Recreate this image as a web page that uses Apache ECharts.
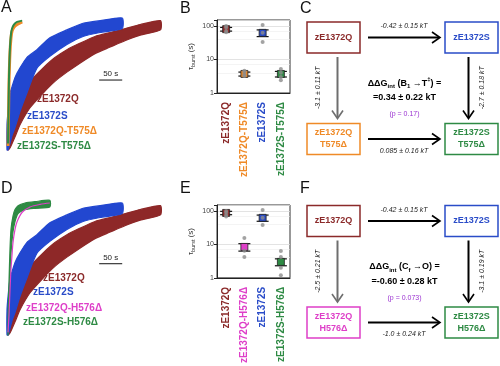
<!DOCTYPE html>
<html><head><meta charset="utf-8">
<script src="https://cdn.jsdelivr.net/npm/echarts@6/dist/echarts.min.js"></script>
<style>html,body{margin:0;padding:0;background:#fff}#c{width:500px;height:366px}</style>
</head><body><div id="c"></div>
<script>
// ===== Panels A / D: current traces (time in s, normalized current; noisy traces as low/high envelopes)
const traceTimeQ = [2.2, 6.5, 17.4, 28, 50, 78, 104, 130, 159, 191, 224, 257, 289, 333];
const traceLowQ  = [0.0, 0.015, 0.10, 0.19, 0.32, 0.43, 0.52, 0.59, 0.66, 0.73, 0.78, 0.83, 0.87, 0.91];
const traceHighQ = [0.08, 0.23, 0.34, 0.42, 0.52, 0.62, 0.70, 0.76, 0.81, 0.86, 0.89, 0.92, 0.95, 0.98];
const traceTimeS = [0, 2.2, 6.5, 11, 17.4, 28, 43, 65, 93, 130, 165, 202, 250];
const traceLowS  = [0, 0, 0.05, 0.11, 0.17, 0.29, 0.43, 0.62, 0.71, 0.80, 0.86, 0.89, 0.92];
const traceHighS = [0.19, 0.29, 0.43, 0.48, 0.55, 0.62, 0.70, 0.76, 0.85, 0.91, 0.96, 0.98, 1.0];
const fastTimeA   = [2.2, 3.3, 4.3, 6.5, 8.7, 11, 15, 22, 33];
const traceQT575  = [0.03, 0.26, 0.50, 0.74, 0.85, 0.90, 0.93, 0.95, 0.97];
const traceST575  = [0.05, 0.30, 0.55, 0.78, 0.88, 0.92, 0.95, 0.97, 0.98];
const fastTimeSH  = [2.2, 4.3, 6.5, 8.7, 13, 17.4, 24, 39, 61, 93];
const traceLowSH  = [0, 0.20, 0.45, 0.62, 0.78, 0.86, 0.92, 0.95, 0.96, 0.97];
const traceHighSH = [0.10, 0.40, 0.65, 0.80, 0.90, 0.95, 0.98, 1.0, 1.01, 1.02];
const fastTimeQH  = [2.2, 4.3, 6.5, 8.7, 11, 13, 17.4, 22, 33, 50, 72, 93];
const traceQH576  = [0.02, 0.15, 0.34, 0.50, 0.61, 0.70, 0.80, 0.86, 0.93, 0.97, 0.99, 1.0];
const scaleBarSeconds = 50;
const legendA = ['zE1372Q', 'zE1372S', 'zE1372Q-T575Δ', 'zE1372S-T575Δ'];
const legendD = ['zE1372Q', 'zE1372S', 'zE1372Q-H576Δ', 'zE1372S-H576Δ'];

// ===== Panels B / E: tau_burst (s)
const catsB  = ['zE1372Q', 'zE1372Q-T575Δ', 'zE1372S', 'zE1372S-T575Δ'];
const meanB  = [80, 3.7, 62, 3.7];
const semB   = [10, 0.5, 14, 0.7];
const pointsB = [[100, 90, 70, 65], [3.2, 4.2, 4.6, 3.5], [107, 62, 33], [5.2, 4.0, 3.0, 2.4]];
const catsE  = ['zE1372Q', 'zE1372Q-H576Δ', 'zE1372S', 'zE1372S-H576Δ'];
const meanE  = [87, 8.4, 62, 3.0];
const semE   = [10, 2.1, 13, 0.7];
const pointsE = [[100, 90, 75, 68], [15.5, 6.5, 4.2], [107, 62, 38], [6.4, 4.2, 2.0, 1.2]];
const yTicksBE = [1, 10, 100];

// ===== Panels C / F: thermodynamic cycles
const nodesC = ['zE1372Q', 'zE1372S', 'zE1372Q\nT575Δ', 'zE1372S\nT575Δ'];
const edgeLabelsC = ['-0.42 ± 0.15 kT', '-3.1 ± 0.11 kT', '-2.7 ± 0.18 kT', '0.085 ± 0.16 kT']; // top, left, right, bottom
const centerC = ['{b|ΔΔG}{s|int}{b| (B}{s|1}{b| →T}{p|‡}{b|) =}', '{b|=0.34 ± 0.22 kT}', '(p = 0.17)'];
const nodesF = ['zE1372Q', 'zE1372S', 'zE1372Q\nH576Δ', 'zE1372S\nH576Δ'];
const edgeLabelsF = ['-0.42 ± 0.15 kT', '-2.5 ± 0.21 kT', '-3.1 ± 0.19 kT', '-1.0 ± 0.24 kT'];
const centerF = ['{b|ΔΔG}{s|int}{b| (C}{s|f}{b| →O) =}', '{b|=-0.60 ± 0.28 kT}', '(p = 0.073)'];

// ----- styles
const FONT = '"Liberation Sans", Arial, sans-serif';
const RED = '#8B2A2A', BLUE = '#2A4CC8', ORANGE = '#EF8A27', GREEN = '#2E8A44', PINK = '#DE3FC8', PURPLE = '#9B33D1';
const colorsB = [RED, ORANGE, BLUE, GREEN];
const colorsE = [RED, PINK, BLUE, GREEN];

function zip(a, b) { return a.map((v, i) => [v, b[i]]); }

function bandSeries(g, times, low, high, color) {
  return {
    type: 'custom', xAxisIndex: g, yAxisIndex: g, data: [[0, 0]], silent: true,
    renderItem: function (params, api) {
      const up = times.map((t, i) => api.coord([t, high[i]]));
      const dn = times.map((t, i) => api.coord([t, low[i]])).reverse();
      return { type: 'polygon', shape: { points: up.concat(dn), smooth: 0.2 }, style: { fill: color, stroke: color, lineWidth: 1.2 } };
    }
  };
}
function lineSeries(g, times, vals, color, w) {
  return { type: 'line', xAxisIndex: g, yAxisIndex: g, data: zip(times, vals), showSymbol: false, smooth: 0.3,
    lineStyle: { color: color, width: w }, silent: true };
}
function scaleBar(g, t0, f) {
  return {
    type: 'custom', xAxisIndex: g, yAxisIndex: g, data: [[t0, f]], silent: true,
    renderItem: function (params, api) {
      const a = api.coord([api.value(0), api.value(1)]);
      const b = api.coord([api.value(0) + scaleBarSeconds, api.value(1)]);
      return { type: 'group', children: [
        { type: 'line', shape: { x1: a[0], y1: a[1], x2: b[0], y2: b[1] }, style: { stroke: '#111', lineWidth: 1 } },
        { type: 'text', x: (a[0] + b[0]) / 2, y: a[1] - 2, style: { text: scaleBarSeconds + ' s', font: '8px ' + FONT, fill: '#222', align: 'center', verticalAlign: 'bottom' } }
      ] };
    }
  };
}
function dotsSeries(g, pts) {
  const data = [];
  pts.forEach((arr, i) => arr.forEach(v => data.push([i, v])));
  return { type: 'scatter', xAxisIndex: g, yAxisIndex: g, data: data, symbolSize: 4, itemStyle: { color: '#8c8c8c' }, silent: true };
}
function meanSeries(g, mean, sem, colors) {
  return {
    type: 'custom', xAxisIndex: g, yAxisIndex: g, silent: true,
    data: mean.map((m, i) => [i, m, sem[i]]),
    renderItem: function (params, api) {
      const i = api.value(0), m = api.value(1), s = api.value(2);
      const c = api.coord([i, m]), t = api.coord([i, m + s]), b = api.coord([i, m - s]);
      return { type: 'group', children: [
        { type: 'line', shape: { x1: c[0], y1: t[1], x2: c[0], y2: b[1] }, style: { stroke: '#111', lineWidth: 1 } },
        { type: 'line', shape: { x1: c[0] - 6, y1: t[1], x2: c[0] + 6, y2: t[1] }, style: { stroke: '#111', lineWidth: 1.2 } },
        { type: 'line', shape: { x1: c[0] - 6, y1: b[1], x2: c[0] + 6, y2: b[1] }, style: { stroke: '#111', lineWidth: 1.2 } },
        { type: 'rect', shape: { x: c[0] - 3.5, y: c[1] - 3.5, width: 7, height: 7 }, style: { fill: colors[i], stroke: '#222', lineWidth: 0.8 } }
      ] };
    }
  };
}
const NODE_W = 53, NODE_H = 31;
const nodeGrid = [[0, 0], [1, 0], [0, 1], [1, 1]];
const edgeGrid = [[0, 1, 'top'], [0, 2, 'left'], [1, 3, 'right'], [2, 3, 'bottom']];
const nodeColorsC = [RED, BLUE, ORANGE, GREEN];
const nodeColorsF = [RED, BLUE, PINK, GREEN];
function nodeSeries(g, names, colors) {
  return {
    type: 'custom', xAxisIndex: g, yAxisIndex: g, silent: true,
    data: names.map((n, i) => [nodeGrid[i][0], nodeGrid[i][1], i]),
    renderItem: function (params, api) {
      const c = api.coord([api.value(0), api.value(1)]), i = api.value(2);
      return { type: 'group', children: [
        { type: 'rect', shape: { x: c[0] - NODE_W / 2, y: c[1] - NODE_H / 2, width: NODE_W, height: NODE_H }, style: { fill: '#fff', stroke: colors[i], lineWidth: 1.5 } },
        { type: 'text', x: c[0], y: c[1], style: { text: names[i], font: 'bold 9px ' + FONT, fill: colors[i], align: 'center', verticalAlign: 'middle', lineHeight: 12 } }
      ] };
    }
  };
}
function edgeSeries(g, labels) {
  return {
    type: 'custom', xAxisIndex: g, yAxisIndex: g, silent: true,
    data: edgeGrid.map((e, k) => [nodeGrid[e[0]][0], nodeGrid[e[0]][1], nodeGrid[e[1]][0], nodeGrid[e[1]][1], k]),
    renderItem: function (params, api) {
      const p1 = api.coord([api.value(0), api.value(1)]), p2 = api.coord([api.value(2), api.value(3)]);
      const k = api.value(4), side = edgeGrid[k][2];
      let sx, sy, ex, ey;
      if (side === 'top' || side === 'bottom') { sx = p1[0] + NODE_W / 2 + 8; ex = p2[0] - NODE_W / 2 - 5; sy = ey = p1[1]; }
      else { sx = ex = p1[0] + (side === 'left' ? 4 : -3); sy = p1[1] + NODE_H / 2 + 4; ey = p2[1] - NODE_H / 2 - 5; }
      const len = Math.hypot(ex - sx, ey - sy), dx = (ex - sx) / len, dy = (ey - sy) / len, px = -dy, py = dx;
      const col = side === 'left' ? '#6e6e6e' : '#000';
      const head = [[ex - dx * 8 + px * 5.5, ey - dy * 8 + py * 5.5], [ex, ey], [ex - dx * 8 - px * 5.5, ey - dy * 8 - py * 5.5]];
      let lx, ly, rot = 0;
      if (side === 'top') { lx = (sx + ex) / 2; ly = sy - 11; }
      else if (side === 'bottom') { lx = (sx + ex) / 2; ly = sy + 12; }
      else if (side === 'left') { lx = sx - 19; ly = (sy + ey) / 2; rot = Math.PI / 2; }
      else { lx = sx + 14; ly = (sy + ey) / 2; rot = Math.PI / 2; }
      return { type: 'group', children: [
        { type: 'line', shape: { x1: sx, y1: sy, x2: ex - dx * 1, y2: ey - dy * 1 }, style: { stroke: col, lineWidth: 2 } },
        { type: 'polyline', shape: { points: head }, style: { stroke: col, lineWidth: 1.6, fill: null } },
        { type: 'text', x: lx, y: ly, rotation: rot, style: { text: labels[k], font: 'italic 7px ' + FONT, fill: '#222', align: 'center', verticalAlign: 'middle' } }
      ] };
    }
  };
}
function centerSeries(g, lines) {
  const rich = {
    b: { fontFamily: FONT, fontWeight: 'bold', fontSize: 9, color: PURPLE, lineHeight: 13 },
    s: { fontFamily: FONT, fontWeight: 'bold', fontSize: 6, color: PURPLE, lineHeight: 8, verticalAlign: 'bottom' },
    p: { fontFamily: FONT, fontWeight: 'bold', fontSize: 6, color: PURPLE, lineHeight: 8, verticalAlign: 'top' }
  };
  const offs = [-5, 9.5, 26];
  return {
    type: 'custom', xAxisIndex: g, yAxisIndex: g, silent: true, data: [[0.5, 0.5]],
    renderItem: function (params, api) {
      const c = api.coord([api.value(0), api.value(1)]);
      return { type: 'group', children: lines.map((t, i) => ({
        type: 'text', x: c[0] + 2, y: c[1] + offs[i],
        style: i < 2 ? { text: t, rich: rich, align: 'center', verticalAlign: 'middle' }
                     : { text: t, font: '7px ' + FONT, fill: PURPLE, align: 'center', verticalAlign: 'middle' }
      })) };
    }
  };
}

// ----- grids
const traceGrid = top => ({ left: 7, width: 159, top: top, height: 145.2 });
const grids = [
  traceGrid(4.8),
  { left: 217, width: 73, top: 20, height: 73, show: true, borderColor: '#333', borderWidth: 1 },
  { left: 333.5, width: 138, top: 37.5, height: 101.5 },
  traceGrid(189.8),
  { left: 217, width: 73, top: 205, height: 73, show: true, borderColor: '#333', borderWidth: 1 },
  { left: 333.5, width: 138, top: 221, height: 101.5 }
];
const hiddenX = (g, max) => ({ gridIndex: g, type: 'value', min: 0, max: max, show: false });
const hiddenY = (g, max, inv) => ({ gridIndex: g, type: 'value', min: 0, max: max, show: false, inverse: !!inv });
function catX(g, cats, colors) {
  return { gridIndex: g, type: 'category', data: cats, boundaryGap: true,
    axisLine: { lineStyle: { color: '#222', width: 1 } }, axisTick: { show: false },
    axisLabel: { interval: 0, rotate: 90, margin: 9, fontSize: 10, fontWeight: 'bold', fontFamily: FONT,
      color: (v, i) => colors[i] } };
}
function logY(g) {
  return { gridIndex: g, type: 'log', logBase: 10, min: yTicksBE[0], max: 150,
    name: '{t|τ}{s|burst}{t| (s)}', nameLocation: 'middle', nameRotate: 90, nameGap: 21,
    nameTextStyle: { rich: {
      t: { fontFamily: FONT, fontSize: 8, color: '#333', lineHeight: 11 },
      s: { fontFamily: FONT, fontSize: 5.5, color: '#333', lineHeight: 7, verticalAlign: 'bottom' } } },
    axisLine: { show: true, lineStyle: { color: '#222' } },
    axisTick: { show: true, length: 3, lineStyle: { color: '#222' } },
    axisLabel: { fontSize: 7, color: '#444', margin: 3, fontFamily: FONT,
      formatter: v => (yTicksBE.indexOf(Math.round(v)) >= 0 ? String(Math.round(v)) : '') },
    splitLine: { show: true, lineStyle: { color: '#dcdcdc', width: 0.8 } },
    minorTick: { show: false, splitNumber: 3 },
    minorSplitLine: { show: true, lineStyle: { color: '#ececec', width: 0.6 } } };
}

const option = {
  animation: false,
  backgroundColor: '#fff',
  grid: grids,
  xAxis: [hiddenX(0, 345), catX(1, catsB, colorsB), hiddenX(2, 1), hiddenX(3, 345), catX(4, catsE, colorsE), hiddenX(5, 1)],
  yAxis: [hiddenY(0, 1.1), logY(1), hiddenY(2, 1, true), hiddenY(3, 1.1), logY(4), hiddenY(5, 1, true)],
  graphic: [].concat(
    [['A', 1, 0], ['B', 180, 1], ['C', 300, 1], ['D', 1, 181], ['E', 180, 181], ['F', 300, 181]].map(p => ({
      type: 'text', x: p[1], y: p[2], style: { text: p[0], font: '16px ' + FONT, fill: '#111', align: 'left', verticalAlign: 'top' } })),
    [[37, 99], [27, 116], [22, 131], [17, 146]].map((p, i) => ({
      type: 'text', x: p[0], y: p[1], style: { text: legendA[i], font: 'bold 10px ' + FONT, fill: [RED, BLUE, ORANGE, GREEN][i], align: 'left', verticalAlign: 'middle' } })),
    [[43, 278], [33, 292], [26, 308], [23, 322]].map((p, i) => ({
      type: 'text', x: p[0], y: p[1], style: { text: legendD[i], font: 'bold 10px ' + FONT, fill: [RED, BLUE, PINK, GREEN][i], align: 'left', verticalAlign: 'middle' } }))
  ),
  series: [
    bandSeries(0, traceTimeQ, traceLowQ, traceHighQ, '#8E2828'),
    bandSeries(0, traceTimeS, traceLowS, traceHighS, '#2247D0'),
    lineSeries(0, fastTimeA, traceQT575, ORANGE, 3),
    lineSeries(0, fastTimeA, traceST575, GREEN, 2),
    scaleBar(0, 200, 0.53),
    dotsSeries(1, pointsB),
    meanSeries(1, meanB, semB, colorsB),
    edgeSeries(2, edgeLabelsC),
    nodeSeries(2, nodesC, nodeColorsC),
    centerSeries(2, centerC),
    bandSeries(3, traceTimeQ, traceLowQ, traceHighQ, '#8E2828'),
    bandSeries(3, traceTimeS, traceLowS, traceHighS, '#2247D0'),
    bandSeries(3, fastTimeSH, traceLowSH, traceHighSH, GREEN),
    lineSeries(3, fastTimeQH, traceQH576, PINK, 1.2),
    scaleBar(3, 200, 0.54),
    dotsSeries(4, pointsE),
    meanSeries(4, meanE, semE, colorsE),
    edgeSeries(5, edgeLabelsF),
    nodeSeries(5, nodesF, nodeColorsF),
    centerSeries(5, centerF)
  ]
};
echarts.init(document.getElementById('c'), null, { renderer: 'canvas' }).setOption(option);
</script></body></html>
